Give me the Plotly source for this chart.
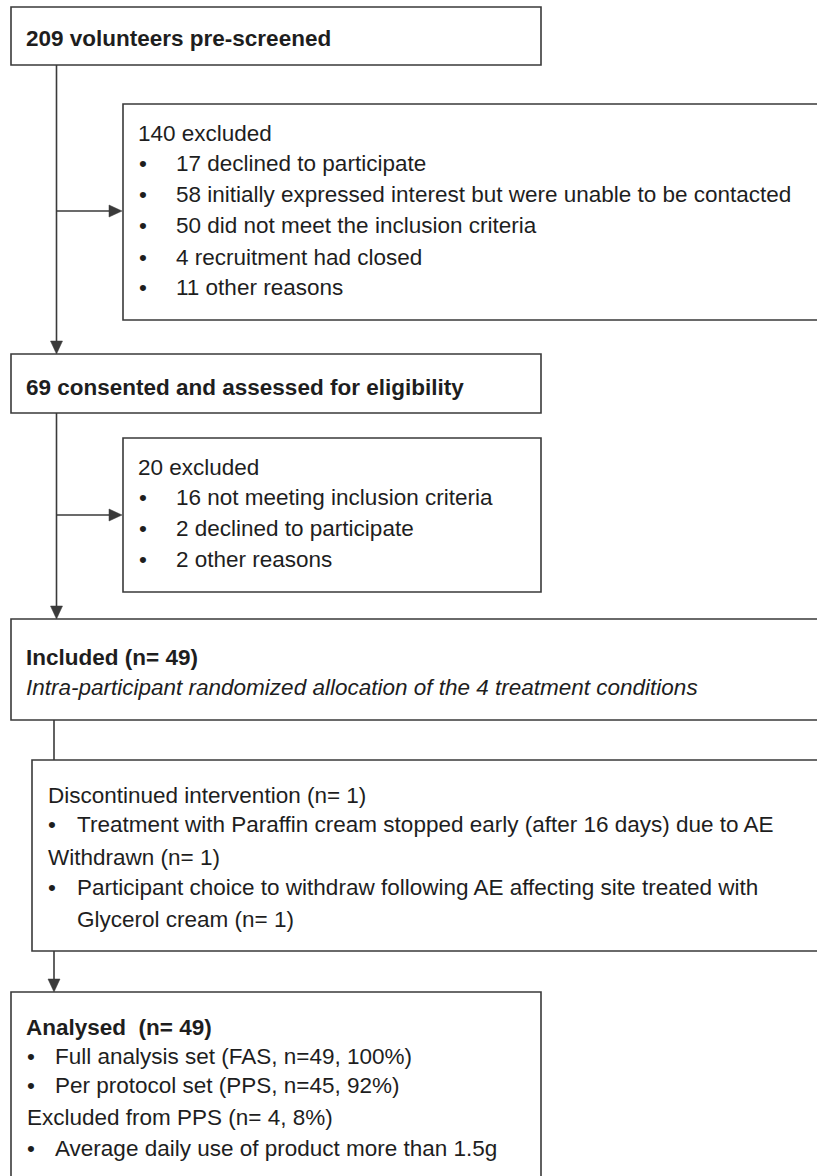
import plotly.graph_objects as go

W, H = 817, 1176

# ---- content (text of the flow diagram) ----
screen_title = "209 volunteers pre-screened"
excl1_title = "140 excluded"
excl1_items = [
    "17 declined to participate",
    "58 initially expressed interest but were unable to be contacted",
    "50 did not meet the inclusion criteria",
    "4 recruitment had closed",
    "11 other reasons",
]
consent_title = "69 consented and assessed for eligibility"
excl2_title = "20 excluded"
excl2_items = [
    "16 not meeting inclusion criteria",
    "2 declined to participate",
    "2 other reasons",
]
incl_title = "Included (n= 49)"
incl_sub = "Intra-participant randomized allocation of the 4 treatment conditions"
disc_bullets = ["", "•", "", "•", ""]
disc_lines = [
    "Discontinued intervention (n= 1)",
    "Treatment with Paraffin cream stopped early (after 16 days) due to AE",
    "Withdrawn (n= 1)",
    "Participant choice to withdraw following AE affecting site treated with",
    "Glycerol cream (n= 1)",
]
anal_title = "Analysed\u00a0 (n= 49)"
anal_bullets = ["•", "•", "", "•"]
anal_lines = [
    "Full analysis set (FAS, n=49, 100%)",
    "Per protocol set (PPS, n=45, 92%)",
    "Excluded from PPS (n= 4, 8%)",
    "Average daily use of product more than 1.5g",
]

# ---- style ----
FONT = "Liberation Sans, Arial, Helvetica, sans-serif"
FS = 22.5
TXT = "#1e1e1e"
LINE = "#3a3a3a"
LW = 1.6

fig = go.Figure()


def box(x0, y0, x1, y1):
    fig.add_shape(type="rect", x0=x0, y0=y0, x1=x1, y1=y1,
                  line=dict(color=LINE, width=LW), fillcolor="rgba(0,0,0,0)",
                  xref="x", yref="y", layer="above")


def seg(x0, y0, x1, y1):
    fig.add_shape(type="line", x0=x0, y0=y0, x1=x1, y1=y1,
                  line=dict(color=LINE, width=LW), xref="x", yref="y")


def head_down(x, y):
    fig.add_shape(type="path", path=f"M {x-6},{y-13} L {x+6},{y-13} L {x},{y} Z",
                  fillcolor=LINE, line=dict(color=LINE, width=0.5), xref="x", yref="y")


def head_right(x, y):
    fig.add_shape(type="path", path=f"M {x-13},{y-6} L {x-13},{y+6} L {x},{y} Z",
                  fillcolor=LINE, line=dict(color=LINE, width=0.5), xref="x", yref="y")


def txt(x, y, s, bold=False, italic=False):
    if bold:
        s = f"<b>{s}</b>"
    if italic:
        s = f"<i>{s}</i>"
    fig.add_annotation(x=x, y=y, text=s, xanchor="left", yanchor="middle",
                       showarrow=False, xref="x", yref="y",
                       font=dict(family=FONT, size=FS, color=TXT))


# ---- boxes ----
box(11, 7, 541, 65)
box(123, 104, 840, 320)
box(11, 354, 541, 413)
box(123, 438, 541, 592)
box(11, 619, 840, 720)
box(32, 760, 840, 951)
box(11, 992, 541, 1200)

# ---- connectors ----
seg(56.5, 65, 56.5, 350)
head_down(56.5, 354)
seg(56.5, 211, 112, 211)
head_right(122, 211)
seg(56.5, 413, 56.5, 615)
head_down(56.5, 619)
seg(56.5, 515, 112, 515)
head_right(122, 515)
seg(54, 720, 54, 760)
seg(54, 951, 54, 988)
head_down(54, 992)

# ---- texts ----
txt(24, 38, screen_title, bold=True)

txt(136, 133, excl1_title)
for y, s in zip([163, 194, 225, 257, 287], excl1_items):
    txt(137, y, "•")
    txt(174, y, s)

txt(24, 387, consent_title, bold=True)

txt(136, 467, excl2_title)
for y, s in zip([497, 528, 559], excl2_items):
    txt(137, y, "•")
    txt(174, y, s)

txt(24, 657, incl_title, bold=True)
txt(24, 687, incl_sub, italic=True)

for y, b, s in zip([795, 824, 857, 887, 919], disc_bullets, disc_lines):
    if b:
        txt(46, y, b)
        txt(75, y, s)
    elif s.startswith("Glycerol"):
        txt(75, y, s)
    else:
        txt(46, y, s)

txt(24, 1027, anal_title, bold=True)
for y, b, s in zip([1056, 1085, 1117, 1148], anal_bullets, anal_lines):
    if b:
        txt(25, y, b)
        txt(53, y, s)
    else:
        txt(25, y, s)

fig.update_layout(
    width=W, height=H,
    margin=dict(l=0, r=0, t=0, b=0),
    paper_bgcolor="white", plot_bgcolor="white",
    showlegend=False,
    xaxis=dict(range=[0, W], visible=False, fixedrange=True),
    yaxis=dict(range=[H, 0], visible=False, fixedrange=True),
)

fig.write_html(
    "out.html",
    config={"displayModeBar": False, "staticPlot": True},
    post_script="document.body.style.margin='0';document.body.style.overflow='hidden';",
)
